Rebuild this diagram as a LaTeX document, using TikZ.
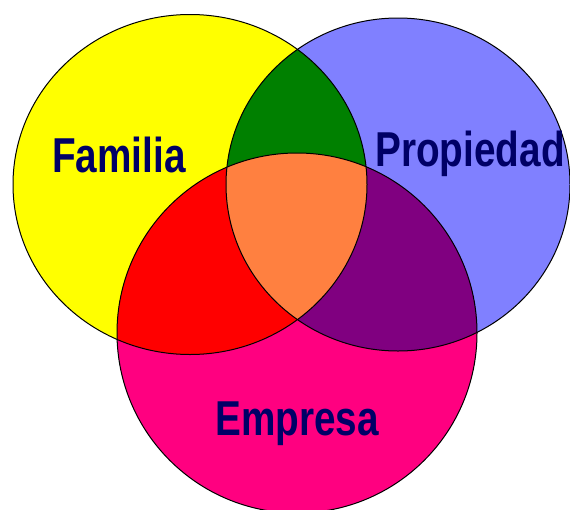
\documentclass[tikz,border=0pt]{standalone}
\usepackage{fontspec}
\newfontfamily\vennfont[FakeStretch=0.79]{Liberation Sans}

\definecolor{famyellow}{RGB}{255,255,0}
\definecolor{propblue}{RGB}{128,128,255}
\definecolor{emppink}{RGB}{255,0,128}
\definecolor{famprop}{RGB}{0,128,0}
\definecolor{famemp}{RGB}{255,0,0}
\definecolor{propemp}{RGB}{128,0,128}
\definecolor{allthree}{RGB}{255,128,64}
\definecolor{labelnavy}{RGB}{0,0,102}

\newcommand{\familiaC}{(190,184.5) ellipse[x radius=177pt,y radius=170pt]}
\newcommand{\propiedadC}{(398,184.5) ellipse[x radius=172pt,y radius=166.5pt]}
\newcommand{\empresaC}{(297,333) circle[radius=180pt]}

\begin{document}
\begin{tikzpicture}[x=1pt,y=-1pt,
    venn label/.style={font=\vennfont\bfseries\fontsize{49}{49}\selectfont,
      text=labelnavy,inner sep=0pt,anchor=base}]
      \useasboundingbox (0,0) rectangle (570,509);

      % the three sets
      \fill[famyellow] \familiaC;
      \fill[propblue] \propiedadC;
      \fill[emppink] \empresaC;

      % overlaps
      \begin{scope}
        \clip \familiaC;
        \fill[famprop] \propiedadC;
        \fill[famemp] \empresaC;
      \end{scope}
      \begin{scope}
        \clip \propiedadC;
        \fill[propemp] \empresaC;
      \end{scope}
      \begin{scope}
        \clip \familiaC;
        \clip \propiedadC;
        \fill[allthree] \empresaC;
      \end{scope}

      % outlines
      \draw[line width=1pt] \familiaC;
      \draw[line width=1pt] \propiedadC;
      \draw[line width=1pt] \empresaC;

      \node[venn label] (familia) at (119,172) {Familia};
      \node[venn label] (propiedad) at (470,166) {Propiedad};
      \node[venn label] (empresa) at (297,435) {Empresa};
    \end{tikzpicture}
\end{document}
